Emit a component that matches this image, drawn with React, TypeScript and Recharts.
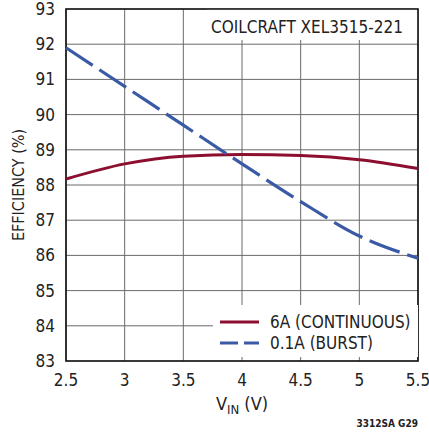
import {
  CartesianGrid,
  Legend,
  Line,
  LineChart,
  ReferenceArea,
  XAxis,
  YAxis,
} from "recharts";

const VIN = [2.5, 3, 3.5, 4, 4.5, 5, 5.5];
const EFF_6A = [88.17, 88.6, 88.82, 88.87, 88.84, 88.72, 88.47];
const EFF_01A = [91.9, 90.8, 89.7, 88.6, 87.53, 86.55, 85.92];
const X_TICKS = [2.5, 3, 3.5, 4, 4.5, 5, 5.5];
const Y_TICKS = [83, 84, 85, 86, 87, 88, 89, 90, 91, 92, 93];
const LEGEND_ORDER = ["6A (CONTINUOUS)", "0.1A (BURST)"];

const FONT = '"Liberation Sans Narrow", "DejaVu Sans Condensed", "Roboto Condensed", Arial, sans-serif';
const RED = "#8c0f30";
const BLUE = "#3b5aa6";

const data = VIN.map((v, i) => ({ vin: v, a6: EFF_6A[i], a01: EFF_01A[i] }));

function XTick({ x, payload }: { x: number; payload: { value: number } }) {
  return (
    <text x={x} y={386} textAnchor="middle" fontFamily={FONT} fontSize={17} fill="#222">
      {payload.value}
    </text>
  );
}

function YTick({ y, payload }: { y: number; payload: { value: number } }) {
  return (
    <text x={55} y={y + 6} textAnchor="end" fontFamily={FONT} fontSize={17} fill="#222">
      {payload.value}
    </text>
  );
}

function LegendBox({ payload }: { payload?: { value: string; color: string }[] }) {
  if (!payload) return null;
  const items = LEGEND_ORDER.map((name) => payload.find((p) => p.value === name)).filter(Boolean) as {
    value: string;
    color: string;
  }[];
  return (
    <div style={{ background: "#fff", width: 205, height: 52 }}>
      <svg width={205} height={52} style={{ display: "block" }}>
        {items.map((p, i) => (
          <g key={p.value}>
            <line
              x1={7}
              x2={46}
              y1={17 + i * 21}
              y2={17 + i * 21}
              stroke={p.color}
              strokeWidth={3}
              strokeDasharray={i === 1 ? "18 6" : undefined}
            />
            <text x={57} y={23 + i * 21} fontFamily={FONT} fontSize={17} fill="#222">
              {p.value}
            </text>
          </g>
        ))}
      </svg>
    </div>
  );
}

export default function App() {
  return (
    <div style={{ position: "absolute", left: 0, top: 0, width: 429, height: 433, background: "#fff" }}>
      <LineChart width={429} height={433} data={data} margin={{ top: 9, right: 11, bottom: 0, left: 0 }}>
        <CartesianGrid stroke="#6a6a6a" strokeWidth={1} />
        <XAxis
          dataKey="vin"
          type="number"
          domain={[2.5, 5.5]}
          ticks={X_TICKS}
          height={72}
          axisLine={false}
          tickLine={false}
          tick={(p: any) => <XTick {...p} />}
          label={{
            content: () => (
              <text x={242} y={410} textAnchor="middle" fontFamily={FONT} fontSize={18} fill="#222">
                V<tspan fontSize={13} dy={4}>IN</tspan>
                <tspan dy={-4}> (V)</tspan>
              </text>
            ),
          }}
        />
        <YAxis
          type="number"
          domain={[83, 93]}
          ticks={Y_TICKS}
          width={66}
          axisLine={false}
          tickLine={false}
          tick={(p: any) => <YTick {...p} />}
          label={{
            content: () => (
              <text
                x={24}
                y={185}
                textAnchor="middle"
                transform="rotate(-90 24 185)"
                fontFamily={FONT}
                fontSize={16}
                fill="#222"
              >
                EFFICIENCY (%)
              </text>
            ),
          }}
        />
        <ReferenceArea
          x1={3.7}
          x2={5.5}
          y1={92.12}
          y2={93}
          fill="#fff"
          fillOpacity={1}
          stroke="none"
          label={{
            content: () => (
              <text x={307} y={33} textAnchor="middle" fontFamily={FONT} fontSize={17} fill="#222">
                COILCRAFT XEL3515-221
              </text>
            ),
          }}
        />
        <ReferenceArea x1={2.5} x2={5.5} y1={83} y2={93} fill="none" stroke="#111" strokeWidth={1.6} />
        <Line
          type="monotone"
          dataKey="a6"
          name="6A (CONTINUOUS)"
          stroke={RED}
          strokeWidth={3}
          dot={false}
          isAnimationActive={false}
        />
        <Line
          type="monotone"
          dataKey="a01"
          name="0.1A (BURST)"
          stroke={BLUE}
          strokeWidth={3.2}
          strokeDasharray="32 8"
          dot={false}
          isAnimationActive={false}
        />
        <Legend
          layout="horizontal"
          verticalAlign="middle"
          align="center"
          wrapperStyle={{ left: 213, top: 305, width: 205, height: 52, right: "auto", bottom: "auto" }}
          content={(p: any) => <LegendBox payload={p.payload} />}
        />
      </LineChart>
      <div
        style={{
          position: "absolute",
          right: 11,
          top: 418,
          fontFamily: FONT,
          fontSize: 10,
          fontWeight: 600,
          color: "#222",
        }}
      >
        3312SA G29
      </div>
    </div>
  );
}
